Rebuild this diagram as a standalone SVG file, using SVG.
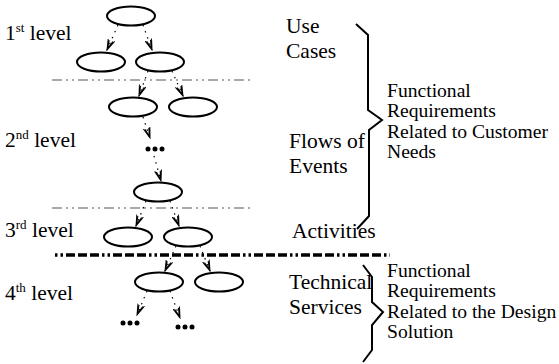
<svg xmlns="http://www.w3.org/2000/svg" width="559" height="364" viewBox="0 0 559 364">
<style>
.lbl{font-family:"Liberation Serif","Times New Roman",serif;font-size:21.5px;fill:#000}
.req{font-family:"Liberation Serif","Times New Roman",serif;font-size:19.6px;fill:#000}
.sup{font-size:13px}
.node ellipse{fill:#fff;stroke:#000;stroke-width:2}
.dots circle{fill:#000}
.conn line{stroke:#000;stroke-width:1.2;stroke-dasharray:1.5 5;fill:none}
.brace{fill:none;stroke:#000;stroke-width:2}
.sep{stroke:#555;stroke-width:1.2;stroke-dasharray:10 4 2 4 2 4}
.sep2{stroke:#000;stroke-width:3.5;stroke-dasharray:2.5 3 2.5 3 9 3 9 3 9 3}
</style>
<defs>
<marker id="ah" viewBox="0 0 12 8" refX="11" refY="4" markerWidth="12" markerHeight="8" markerUnits="userSpaceOnUse" orient="auto">
<path d="M0,0.5 L11,4 L0,7.5 M1,2 L9,4 L1,6" fill="none" stroke="#000" stroke-width="1"/>
</marker>
</defs>
<rect width="559" height="364" fill="#fff"/>
<g id="separators">
<line class="sep" x1="52" y1="80" x2="253" y2="80"/>
<line class="sep" x1="52" y1="208" x2="253" y2="208"/>
<line class="sep2" x1="55" y1="255" x2="390" y2="255"/>
</g>
<g id="level-labels" class="lbl">
<text x="5" y="40">1<tspan class="sup" dy="-8">st</tspan><tspan dy="8"> level</tspan></text>
<text x="5" y="147">2<tspan class="sup" dy="-8">nd</tspan><tspan dy="8"> level</tspan></text>
<text x="5" y="237">3<tspan class="sup" dy="-8">rd</tspan><tspan dy="8"> level</tspan></text>
<text x="5" y="300">4<tspan class="sup" dy="-8">th</tspan><tspan dy="8"> level</tspan></text>
</g>
<g id="type-labels" class="lbl">
<text x="286" y="33">Use</text>
<text x="286" y="58">Cases</text>
<text x="289" y="148">Flows of</text>
<text x="289" y="173">Events</text>
<text x="292" y="238">Activities</text>
<text x="289" y="289">Technical</text>
<text x="289" y="314">Services</text>
</g>
<g id="brace-customer">
<path class="brace" d="M356,24 L368,35 L368,110 L382,120 L369,130 L369,216 L357,229"/>
<text class="req" x="387" y="97">Functional</text>
<text class="req" x="387" y="117">Requirements</text>
<text class="req" x="387" y="138">Related to Customer</text>
<text class="req" x="387" y="158">Needs</text>
</g>
<g id="brace-design">
<path class="brace" d="M363,265 L372,277 L372,302 L383,312 L372,325 L372,350 L363,362"/>
<text class="req" x="387" y="277">Functional</text>
<text class="req" x="387" y="297">Requirements</text>
<text class="req" x="387" y="318">Related to the Design</text>
<text class="req" x="387" y="338">Solution</text>
</g>
<g id="connectors" class="conn">
<line x1="118" y1="25" x2="107" y2="50" marker-end="url(#ah)"/>
<line x1="143" y1="25" x2="152" y2="50" marker-end="url(#ah)"/>
<line x1="148" y1="71" x2="139" y2="96" marker-end="url(#ah)"/>
<line x1="172" y1="71" x2="183" y2="96" marker-end="url(#ah)"/>
<line x1="143" y1="117" x2="150" y2="138" marker-end="url(#ah)"/>
<line x1="154" y1="156" x2="161" y2="181" marker-end="url(#ah)"/>
<line x1="146" y1="201" x2="136" y2="226" marker-end="url(#ah)"/>
<line x1="170" y1="201" x2="179" y2="226" marker-end="url(#ah)"/>
<line x1="176" y1="246" x2="165" y2="271" marker-end="url(#ah)"/>
<line x1="200" y1="246" x2="210" y2="271" marker-end="url(#ah)"/>
<line x1="147" y1="291" x2="137" y2="315" marker-end="url(#ah)"/>
<line x1="170" y1="291" x2="180" y2="318" marker-end="url(#ah)"/>
</g>
<g id="n1" class="node"><ellipse cx="131" cy="16" rx="24" ry="9.5"/></g>
<g id="n2a" class="node"><ellipse cx="101" cy="62" rx="24" ry="9.5"/></g>
<g id="n2b" class="node"><ellipse cx="160" cy="62" rx="24" ry="9.5"/></g>
<g id="n3a" class="node"><ellipse cx="133" cy="107" rx="24" ry="9.5"/></g>
<g id="n3b" class="node"><ellipse cx="193" cy="107" rx="24" ry="9.5"/></g>
<g id="dots1" class="dots"><circle cx="148" cy="149" r="2.5"/><circle cx="155" cy="149" r="2.5"/><circle cx="162" cy="149" r="2.5"/></g>
<g id="n4" class="node"><ellipse cx="158" cy="192" rx="24" ry="9.5"/></g>
<g id="n5a" class="node"><ellipse cx="128" cy="237" rx="24" ry="9.5"/></g>
<g id="n5b" class="node"><ellipse cx="188" cy="237" rx="24" ry="9.5"/></g>
<g id="n6a" class="node"><ellipse cx="159" cy="282" rx="24" ry="9.5"/></g>
<g id="n6b" class="node"><ellipse cx="219" cy="282" rx="24" ry="9.5"/></g>
<g id="dots2" class="dots"><circle cx="123" cy="323" r="2.5"/><circle cx="130" cy="323" r="2.5"/><circle cx="137" cy="323" r="2.5"/></g>
<g id="dots3" class="dots"><circle cx="178" cy="327" r="2.5"/><circle cx="185" cy="327" r="2.5"/><circle cx="192" cy="327" r="2.5"/></g>
</svg>
